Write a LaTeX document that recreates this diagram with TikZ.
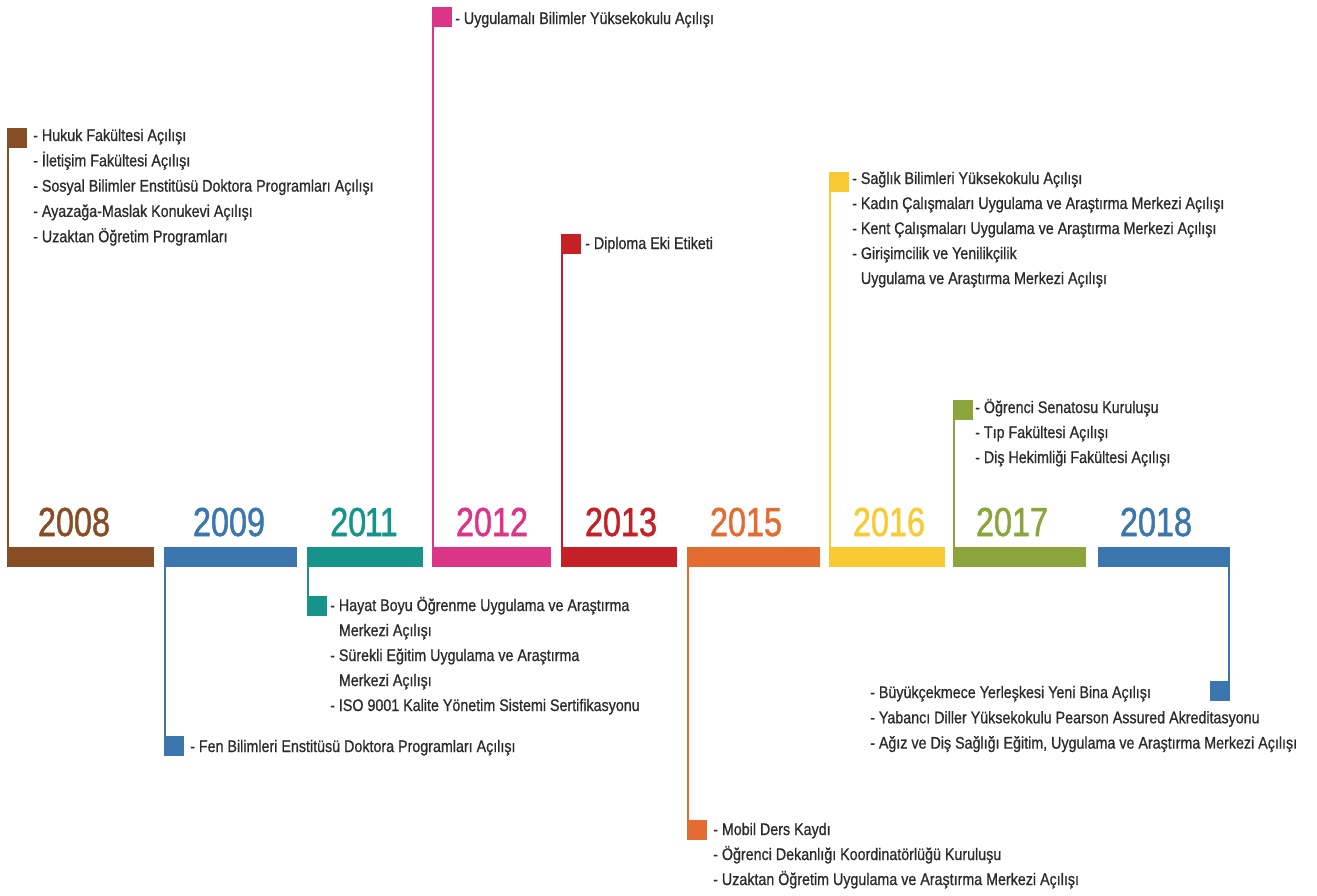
\documentclass[tikz,border=0pt]{standalone}
\usepackage{fontspec}
\setmainfont[FakeStretch=0.85,FakeBold=0.8]{Liberation Sans}
\newfontfamily\yearfont[FakeStretch=0.8,FakeBold=1.2]{Liberation Sans}
\usetikzlibrary{calc}
\definecolor{c08}{HTML}{874E25}
\definecolor{c09}{HTML}{3C76AE}
\definecolor{c11}{HTML}{17948A}
\definecolor{c12}{HTML}{DC3587}
\definecolor{c13}{HTML}{C42026}
\definecolor{c15}{HTML}{E36D31}
\definecolor{c16}{HTML}{F8CB35}
\definecolor{c17}{HTML}{8CA43C}
\definecolor{c18}{HTML}{3C76AE}
\definecolor{evtext}{HTML}{2B2B2B}
\tikzset{
  bar/.style={fill=#1, draw=none, minimum height=20pt, inner sep=0pt, outer sep=0pt, anchor=north west},
  flag/.style={fill=#1, draw=none, minimum width=20pt, minimum height=20pt, inner sep=0pt, outer sep=0pt, anchor=north west},
  stem/.style={draw=#1, line width=2pt},
  yr/.style={text=#1, font=\yearfont\fontsize{40.5}{42}\selectfont, anchor=base, inner sep=0pt},
  ev/.style={text=evtext, font=\fontsize{16.8}{20}\selectfont, anchor=base west, inner sep=0pt},
}
\newcommand\ind{\phantom{-\ }}
\begin{document}
\begin{tikzpicture}[x=1pt,y=-1pt]
\useasboundingbox (0,0) rectangle (1317,895);
% bars
\node[bar=c08, minimum width=147pt] (b08) at (7,547) {};
\node[bar=c09, minimum width=133pt] (b09) at (164,547) {};
\node[bar=c11, minimum width=116pt] (b11) at (307,547) {};
\node[bar=c12, minimum width=119pt] (b12) at (432,547) {};
\node[bar=c13, minimum width=116pt] (b13) at (561,547) {};
\node[bar=c15, minimum width=133pt] (b15) at (687,547) {};
\node[bar=c16, minimum width=116pt] (b16) at (829,547) {};
\node[bar=c17, minimum width=133pt] (b17) at (953,547) {};
\node[bar=c18, minimum width=132pt] (b18) at (1098,547) {};
% flags
\node[flag=c08] (f08) at (7,128) {};
\node[flag=c09] (f09) at (164,736) {};
\node[flag=c11] (f11) at (307,596) {};
\node[flag=c12] (f12) at (432,7) {};
\node[flag=c13] (f13) at (561,234) {};
\node[flag=c15] (f15) at (687,820) {};
\node[flag=c16] (f16) at (829,172) {};
\node[flag=c17] (f17) at (953,400) {};
\node[flag=c18] (f18) at (1210,681) {};
% stems
\draw[stem=c08] ($(f08.north west)+(1,0)$) -- ($(b08.south west)+(1,0)$);
\draw[stem=c09] ($(b09.north west)+(1,0)$) -- ($(f09.south west)+(1,0)$);
\draw[stem=c11] ($(b11.north west)+(1,0)$) -- ($(f11.south west)+(1,0)$);
\draw[stem=c12] ($(f12.north west)+(1,0)$) -- ($(b12.south west)+(1,0)$);
\draw[stem=c13] ($(f13.north west)+(1,0)$) -- ($(b13.south west)+(1,0)$);
\draw[stem=c15] ($(b15.north west)+(1,0)$) -- ($(f15.south west)+(1,0)$);
\draw[stem=c16] ($(f16.north west)+(1,0)$) -- ($(b16.south west)+(1,0)$);
\draw[stem=c17] ($(f17.north west)+(1,0)$) -- ($(b17.south west)+(1,0)$);
\draw[stem=c18] ($(b18.north east)+(-1,0)$) -- ($(f18.south east)+(-1,0)$);
% years
\node[yr=c08] (y08) at (74,536) {2008};
\node[yr=c09] (y09) at (229,536) {2009};
\node[yr=c11] (y11) at (364,536) {20\kern-1.5pt1\kern-3pt1};
\node[yr=c12] (y12) at (492,536) {2012};
\node[yr=c13] (y13) at (621,536) {2013};
\node[yr=c15] (y15) at (746,536) {2015};
\node[yr=c16] (y16) at (889,536) {2016};
\node[yr=c17] (y17) at (1012,536) {2017};
\node[yr=c18] (y18) at (1156,536) {2018};
% events
\foreach \t [count=\i] in {{- Hukuk Fakültesi Açılışı},{- İletişim Fakültesi Açılışı},{- Sosyal Bilimler Enstitüsü Doktora Programları Açılışı},{- Ayazağa-Maslak Konukevi Açılışı},{- Uzaktan Öğretim Programları}}
  \node[ev] (t08-\i) at (33,{141+(\i-1)*25.3}) {\t};
\node[ev] (t12-1) at (455,24) {- Uygulamalı Bilimler Yüksekokulu Açılışı};
\node[ev] (t13-1) at (585,249) {- Diploma Eki Etiketi};
\foreach \t [count=\i] in {{- Sağlık Bilimleri Yüksekokulu Açılışı},{- Kadın Çalışmaları Uygulama ve Araştırma Merkezi Açılışı},{- Kent Çalışmaları Uygulama ve Araştırma Merkezi Açılışı},{- Girişimcilik ve Yenilikçilik},{\ind Uygulama ve Araştırma Merkezi Açılışı}}
  \node[ev] (t16-\i) at (852,{184+(\i-1)*25}) {\t};
\foreach \t [count=\i] in {{- Öğrenci Senatosu Kuruluşu},{- Tıp Fakültesi Açılışı},{- Diş Hekimliği Fakültesi Açılışı}}
  \node[ev] (t17-\i) at (975,{413+(\i-1)*25}) {\t};
\node[ev] (t09-1) at (190,752) {- Fen Bilimleri Enstitüsü Doktora Programları Açılışı};
\foreach \t [count=\i] in {{- Hayat Boyu Öğrenme Uygulama ve Araştırma},{\ind Merkezi Açılışı},{- Sürekli Eğitim Uygulama ve Araştırma},{\ind Merkezi Açılışı},{- ISO 9001 Kalite Yönetim Sistemi Sertifikasyonu}}
  \node[ev] (t11-\i) at (330,{611+(\i-1)*25}) {\t};
\foreach \t [count=\i] in {{- Mobil Ders Kaydı},{- Öğrenci Dekanlığı Koordinatörlüğü Kuruluşu},{- Uzaktan Öğretim Uygulama ve Araştırma Merkezi Açılışı}}
  \node[ev] (t15-\i) at (713,{835+(\i-1)*25}) {\t};
\foreach \t [count=\i] in {{- Büyükçekmece Yerleşkesi Yeni Bina Açılışı},{- Yabancı Diller Yüksekokulu Pearson Assured Akreditasyonu},{- Ağız ve Diş Sağlığı Eğitim, Uygulama ve Araştırma Merkezi Açılışı}}
  \node[ev] (t18-\i) at (870,{698+(\i-1)*25.3}) {\t};
\end{tikzpicture}
\end{document}
